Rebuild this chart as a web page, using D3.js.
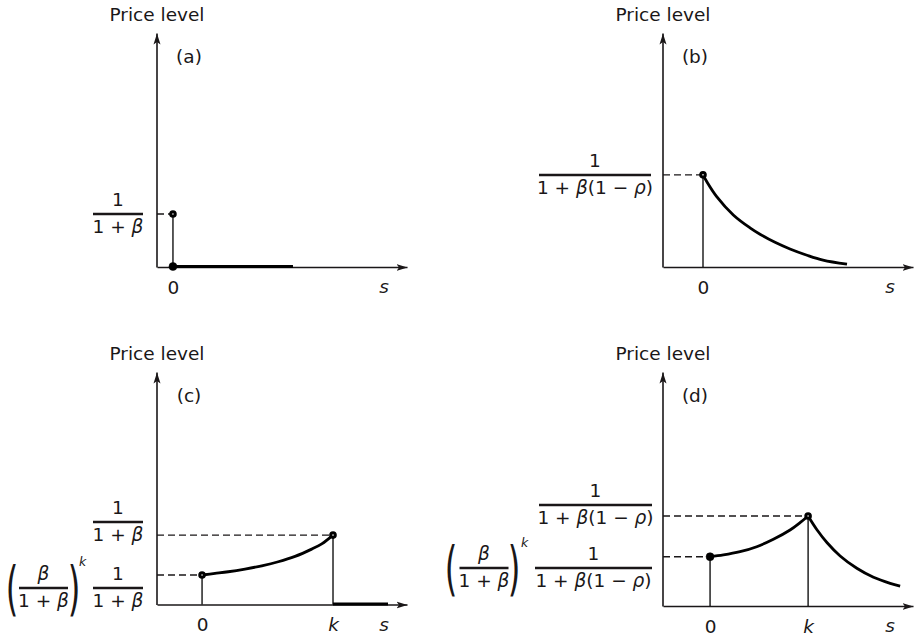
<!DOCTYPE html>
<html>
<head>
<meta charset="utf-8">
<script src="https://cdnjs.cloudflare.com/ajax/libs/d3/7.8.5/d3.min.js"></script>
<style>
body { margin:0; background:#fff; }
svg text { font-family: "DejaVu Sans", sans-serif; fill:#1a1718; }
</style>
</head>
<body>
<svg id="chart" width="916" height="636"></svg>
<script>
// ---- data (s in periods, k = 10; price in units of the top marker) ----
var panelLabels = ["(a)", "(b)", "(c)", "(d)"]
var yTitle = "Price level"
var xTitle = "s"

var ticksAB = [0]
var tickNamesAB = ["0"]
var ticksCD = [0, 10]
var tickNamesCD = ["0", "k"]

// (a) price jumps to 1/(1+b) at s=0 and is zero afterwards
var flatA = [[0, 0], [10, 0]]
var dotsA = [[0, 1, "open"], [0, 0, "solid"]]

// (b) decays after s=0
var curveB = [[0, 1.0], [0.37, 0.928], [1.37, 0.764], [3.03, 0.565], [4.7, 0.425], [5.7, 0.356], [7.2, 0.268], [8.7, 0.196], [10.4, 0.128], [12.0, 0.075], [14.4, 0.03]]
var dotsB = [[0, 1, "open"]]

// (c) rises until k, then zero
var curveC = [[0, 0.425], [0.99, 0.448], [2.0, 0.472], [3.28, 0.511], [4.56, 0.558], [5.82, 0.616], [7.1, 0.693], [8.37, 0.798], [9.14, 0.874], [10, 1]]
var flatC = [[10, 0], [14.2, 0]]
var dotsC = [[0, 0.425, "open"], [10, 1, "open"]]

// (d) rises until k, then decays
var curveDUp = [[0, 0.548], [1.36, 0.567], [3.06, 0.603], [4.76, 0.659], [6.46, 0.741], [8.16, 0.844], [9.18, 0.926], [10, 1]]
var curveDDown = [[10, 1], [10.92, 0.844], [11.94, 0.703], [13.27, 0.556], [14.97, 0.419], [16.67, 0.319], [18.37, 0.252], [19.39, 0.222]]
var dotsD = [[0, 0.548, "solid"], [10, 1, "open"]]

// label pieces: [text, italic]
var numOne = [["1", false]]
var denBeta = [["1 + ", false], ["β", true]]
var denBetaRho = [["1 + ", false], ["β", true], ["(1 − ", false], ["ρ", true], [")", false]]
var numBeta = [["β", true]]

var ink = "#1a1718"
var svg = d3.select("#chart")

var defs = svg.append("defs")
defs.append("marker")
    .attr("id", "arrow")
    .attr("viewBox", "0 0 11 8")
    .attr("refX", 11)
    .attr("refY", 4)
    .attr("markerWidth", 11)
    .attr("markerHeight", 8)
    .attr("markerUnits", "userSpaceOnUse")
    .attr("orient", "auto")
    .append("path")
    .attr("d", "M0,0.5L11,4L0,7.5L2.5,4Z")
    .attr("fill", ink)

var addParts = function(text, parts)
{
    text.selectAll("tspan")
        .data(parts)
        .enter()
        .append("tspan")
        .text(function(d) { return d[0] })
        .attr("font-style", function(d) { return d[1] ? "italic" : null })
}

var drawFrac = function(g, cx, barY, barW, num, den)
{
    g.append("line")
        .attr("x1", cx - barW / 2)
        .attr("x2", cx + barW / 2)
        .attr("y1", barY)
        .attr("y2", barY)
        .attr("stroke", ink)
        .attr("stroke-width", 2.3)
    addParts(g.append("text").attr("x", cx).attr("y", barY - 8).attr("text-anchor", "middle").attr("font-size", 18.5), num)
    addParts(g.append("text").attr("x", cx).attr("y", barY + 18.5).attr("text-anchor", "middle").attr("font-size", 18.5), den)
}

// (beta/(1+beta))^k written with tall brackets
var drawPower = function(g, cx, barY, leftX, rightX, parenBase, kX, kY)
{
    drawFrac(g, cx, barY, 49, numBeta, denBeta)
    g.append("text").text("(")
        .attr("text-anchor", "middle").attr("font-size", 18)
        .attr("transform", "translate(" + leftX + "," + parenBase + ") scale(1.8,3.3)")
    g.append("text").text(")")
        .attr("text-anchor", "middle").attr("font-size", 18)
        .attr("transform", "translate(" + rightX + "," + parenBase + ") scale(1.8,3.3)")
    g.append("text").text("k")
        .attr("x", kX).attr("y", kY)
        .attr("font-size", 12.5).attr("font-style", "italic")
}

var panels = [
    {label: panelLabels[0], xr: [157, 407], xd: [-1.33, 19.5], yr: [267, 33], yd: [0, 4.42],
     ticks: ticksAB, names: tickNamesAB, curves: [], flat: flatA, dots: dotsA},
    {label: panelLabels[1], xr: [663, 913], xd: [-4, 21], yr: [267, 33], yd: [0, 2.54],
     ticks: ticksAB, names: tickNamesAB, curves: [curveB], flat: null, dots: dotsB},
    {label: panelLabels[2], xr: [157, 407], xd: [-3.44, 15.65], yr: [604.5, 372], yd: [0, 3.35],
     ticks: ticksCD, names: tickNamesCD, curves: [curveC], flat: flatC, dots: dotsC},
    {label: panelLabels[3], xr: [663, 913], xd: [-4.8, 20.7], yr: [606, 372], yd: [0, 2.6],
     ticks: ticksCD, names: tickNamesCD, curves: [curveDUp, curveDDown], flat: null, dots: dotsD}
]

var drawPanel = function(p)
{
    var xScale = d3.scaleLinear().domain(p.xd).range(p.xr)
    var yScale = d3.scaleLinear().domain(p.yd).range(p.yr)
    var g = svg.append("g")

    var xAxis = d3.axisBottom(xScale)
        .tickValues(p.ticks)
        .tickFormat(function(d, i) { return p.names[i] })
        .tickSize(0)
        .tickSizeOuter(0)
        .tickPadding(13.5)
    var yAxis = d3.axisLeft(yScale).tickValues([]).tickSize(0).tickSizeOuter(0)

    var gx = g.append("g")
        .attr("transform", "translate(0," + p.yr[0] + ")")
        .call(xAxis)
    gx.select(".domain").attr("stroke", ink).attr("stroke-width", 1.6).attr("marker-end", "url(#arrow)")
    gx.selectAll(".tick text")
        .attr("font-size", 18.5)
        .attr("font-family", "DejaVu Sans")
        .attr("fill", ink)
        .attr("font-style", function(d, i) { return p.names[i] == "k" ? "italic" : null })

    var gy = g.append("g")
        .attr("transform", "translate(" + (p.xr[0] - 0.5) + ",0)")
        .call(yAxis)
    gy.select(".domain").attr("stroke", ink).attr("stroke-width", 1.6).attr("marker-end", "url(#arrow)")

    // titles
    g.append("text").text(yTitle)
        .attr("x", p.xr[0]).attr("y", p.yr[1] - 12)
        .attr("text-anchor", "middle").attr("font-size", 18.5)
    g.append("text").text(p.label)
        .attr("x", p.xr[0] + 32).attr("y", p.yr[1] + 30)
        .attr("text-anchor", "middle").attr("font-size", 18.5)
    g.append("text").text(xTitle)
        .attr("x", p.xr[1] - 23).attr("y", p.yr[0] + 26)
        .attr("text-anchor", "middle").attr("font-size", 18.5).attr("font-style", "italic")

    // dashed guides and drop lines for each marked point
    p.dots.forEach(function(d)
    {
        if (d[1] == 0) return
        g.append("line")
            .attr("x1", p.xr[0]).attr("x2", xScale(d[0]))
            .attr("y1", yScale(d[1])).attr("y2", yScale(d[1]))
            .attr("stroke", ink).attr("stroke-width", 1.4).attr("stroke-dasharray", "7,4")
        g.append("line")
            .attr("x1", xScale(d[0])).attr("x2", xScale(d[0]))
            .attr("y1", yScale(d[1])).attr("y2", yScale(0))
            .attr("stroke", "#000").attr("stroke-width", 1.3)
    })

    var line = d3.line()
        .x(function(d) { return xScale(d[0]) })
        .y(function(d) { return yScale(d[1]) })
        .curve(d3.curveCatmullRom.alpha(0.5))

    p.curves.forEach(function(c)
    {
        g.append("path").datum(c)
            .attr("d", line)
            .attr("fill", "none").attr("stroke", "#000").attr("stroke-width", 2.8)
    })
    if (p.flat)
    {
        g.append("path").datum(p.flat)
            .attr("d", d3.line().x(function(d) { return xScale(d[0]) }).y(function(d) { return yScale(d[1]) - 0.5 }))
            .attr("fill", "none").attr("stroke", "#000").attr("stroke-width", 3.2)
    }

    g.selectAll("circle")
        .data(p.dots)
        .enter()
        .append("circle")
        .attr("cx", function(d) { return xScale(d[0]) })
        .attr("cy", function(d) { return yScale(d[1]) - (d[1] == 0 ? 0.5 : 0) })
        .attr("r", function(d) { return d[2] == "open" ? 2.3 : 4 })
        .attr("fill", function(d) { return d[2] == "open" ? "#fff" : "#000" })
        .attr("stroke", "#000")
        .attr("stroke-width", function(d) { return d[2] == "open" ? 3 : 0.5 })
}

panels.forEach(drawPanel)

// value labels on the price axis
var labels = svg.append("g")
drawFrac(labels, 118, 214, 50, numOne, denBeta)
drawFrac(labels, 595, 175, 112, numOne, denBetaRho)
drawFrac(labels, 118, 522, 50, numOne, denBeta)
drawFrac(labels, 118, 588, 50, numOne, denBeta)
drawPower(labels, 43.5, 588, 12, 74, 609, 79, 566)
drawFrac(labels, 595.5, 505, 113, numOne, denBetaRho)
drawFrac(labels, 593.5, 568, 117, numOne, denBetaRho)
drawPower(labels, 484, 568, 451, 514, 589, 521, 547)
</script>
</body>
</html>
